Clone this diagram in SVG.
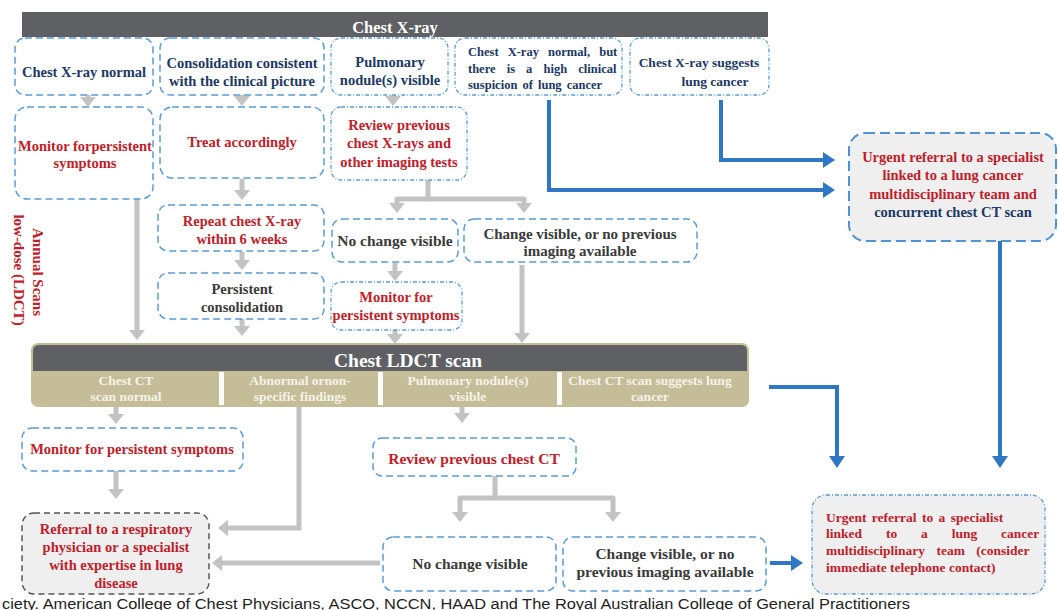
<svg xmlns="http://www.w3.org/2000/svg" width="1058" height="610" viewBox="0 0 1058 610">
<defs>
<style>
text{font-family:"Liberation Serif","Times New Roman",serif;font-weight:bold;font-size:14.5px;text-anchor:middle}
.nv{fill:#203864}
.rd{fill:#c0202a}
.dk{fill:#3a3a3a}
.wt{fill:#ffffff}
.tn{fill:#f6f3ea;font-size:13.5px}
.big{font-size:15.5px}
.bx{fill:#ffffff;stroke:#5b9bd5;stroke-width:1.5;stroke-dasharray:7 4}
.bxd{fill:#ffffff;stroke:#5b9bd5;stroke-width:1.3;stroke-dasharray:4 2 1 2}
.ug{fill:#efeff0;stroke:#4f93d6;stroke-width:2;stroke-dasharray:10 5}
.rf{fill:#efefef;stroke:#555555;stroke-width:1.5;stroke-dasharray:6 4}
.ugd{fill:#efefef;stroke:#5b9bd5;stroke-width:1.3;stroke-dasharray:4 2 1 2}
.g{fill:none;stroke:#c3c3c3;stroke-width:5;marker-end:url(#ga)}
.b{fill:none;stroke:#2f77c4;stroke-width:4;marker-end:url(#ba)}
.sm{font-size:12.5px;text-anchor:start}
.ju{font-size:13.5px;text-anchor:start}
.cap{font-family:"Liberation Sans",Arial,sans-serif;font-weight:normal;font-size:14px;fill:#222;text-anchor:start}
</style>
<marker id="ga" markerUnits="userSpaceOnUse" markerWidth="10" markerHeight="18" viewBox="0 -9 10 18" refX="0" refY="0" orient="auto"><path d="M0,-8 L10,0 L0,8 z" fill="#c3c3c3"/></marker>
<marker id="ba" markerUnits="userSpaceOnUse" markerWidth="12" markerHeight="18" viewBox="0 -9 12 18" refX="0" refY="0" orient="auto"><path d="M0,-8 L12,0 L0,8 z" fill="#2f77c4"/></marker>
</defs>
<rect width="1058" height="610" fill="#ffffff"/>

<g id="header-xray">
<rect x="22" y="12" width="746" height="25" fill="#5f6063"/>
<text class="wt" x="395" y="33" style="font-size:16.5px">Chest X-ray</text>
</g>

<g id="connectors">
<path class="g" d="M88,95 V97"/>
<path class="g" d="M242,95 V96"/>
<path class="g" d="M393,95 V96"/>
<path class="g" d="M242,179 V190"/>
<path class="g" d="M242,252 V260"/>
<path class="g" d="M242,319 V326"/>
<path class="g" d="M137,199 V330"/>
<path class="g" d="M428,180 V199 H397 V203" stroke-linejoin="round"/>
<path class="g" d="M428,199 H524 V203" stroke-linejoin="round"/>
<path class="g" d="M395,263 V271"/>
<path class="g" d="M395,330 V334"/>
<path class="g" d="M522,265 V333"/>
<path class="g" d="M116,407 V414"/>
<path class="g" d="M116,471 V489"/>
<path class="g" d="M299,407 V528 H228"/>
<path class="g" d="M462,407 V413"/>
<path class="g" d="M495,476 V498 H460 V512" stroke-linejoin="round"/>
<path class="g" d="M495,498 H613 V512" stroke-linejoin="round"/>
<path class="g" d="M380,563 H222"/>
<path class="b" d="M549,100 V190 H823"/>
<path class="b" d="M721,100 V160 H823"/>
<path class="b" d="M1000,241 V456"/>
<path class="b" d="M769,387 H837 V456"/>
<path class="b" d="M770,563 H791"/>
</g>

<g id="n-xray-normal">
<rect class="bx" x="15" y="38" width="138" height="57" rx="10"/>
<text class="nv" x="84" y="77">Chest X-ray normal</text>
</g>
<g id="n-consolidation">
<rect class="bx" x="160" y="38" width="164" height="57" rx="10"/>
<text class="nv" x="242" y="68">Consolidation consistent</text>
<text class="nv" x="242" y="86">with the clinical picture</text>
</g>
<g id="n-nodule">
<rect class="bxd" x="331" y="38" width="117" height="57" rx="10"/>
<text class="nv" x="390" y="67">Pulmonary</text>
<text class="nv" x="390" y="85">nodule(s) visible</text>
</g>
<g id="n-high-suspicion">
<rect class="bxd" x="455" y="38" width="167" height="57" rx="10"/>
<text class="nv sm" x="468" y="56" style="word-spacing:6px">Chest X-ray normal, but</text>
<text class="nv sm" x="468" y="73" style="word-spacing:8px">there is a high clinical</text>
<text class="nv sm" x="468" y="89" style="word-spacing:2px">suspicion of lung cancer</text>
</g>
<g id="n-xray-suggests">
<rect class="bxd" x="630" y="38" width="139" height="57" rx="10"/>
<text class="nv" x="699" y="67" style="font-size:13.5px">Chest X-ray suggests</text>
<text class="nv" x="715" y="86" style="font-size:13.5px">lung cancer</text>
</g>

<g id="n-monitor-1">
<rect class="bx" x="15" y="107" width="138" height="92" rx="12"/>
<text class="rd" x="85" y="151">Monitor forpersistent</text>
<text class="rd" x="85" y="168">symptoms</text>
</g>
<g id="n-treat">
<rect class="bx" x="160" y="107" width="164" height="71" rx="12"/>
<text class="rd" x="242" y="147">Treat accordingly</text>
</g>
<g id="n-review-xrays">
<rect class="bxd" x="331" y="107" width="136" height="73" rx="10"/>
<text class="rd" x="399" y="130">Review previous</text>
<text class="rd" x="399" y="148">chest X-rays and</text>
<text class="rd" x="399" y="167">other imaging tests</text>
</g>
<g id="n-repeat">
<rect class="bx" x="158" y="205" width="166" height="46" rx="10"/>
<text class="rd" x="242" y="226">Repeat chest X-ray</text>
<text class="rd" x="242" y="244">within 6 weeks</text>
</g>
<g id="n-persistent">
<rect class="bx" x="158" y="273" width="166" height="46" rx="10"/>
<text class="dk" x="242" y="294">Persistent</text>
<text class="dk" x="242" y="312">consolidation</text>
</g>
<g id="n-nochange-1">
<rect class="bx" x="332" y="219" width="126" height="43" rx="10"/>
<text class="dk big" x="395" y="246">No change visible</text>
</g>
<g id="n-change-1">
<rect class="bx" x="464" y="219" width="233" height="43" rx="10"/>
<text class="dk" x="580" y="239" style="font-size:15px">Change visible, or no previous</text>
<text class="dk" x="580" y="256" style="font-size:15px">imaging available</text>
</g>
<g id="n-monitor-2">
<rect class="bxd" x="331" y="282" width="131" height="48" rx="10"/>
<text class="rd" x="396" y="302">Monitor for</text>
<text class="rd" x="396" y="320">persistent symptoms</text>
</g>

<g id="n-annual">
<text class="rd" transform="translate(38,272) rotate(90)" x="0" y="5" style="font-size:15px">Annual Scans</text>
<text class="rd" transform="translate(19,270) rotate(90)" x="0" y="5" style="font-size:15px">low-dose (LDCT)</text>
</g>

<g id="n-urgent-1">
<rect class="ug" x="849" y="133" width="207" height="108" rx="16"/>
<text class="rd" x="953" y="162">Urgent referral to a specialist</text>
<text class="rd" x="953" y="180">linked to a lung cancer</text>
<text class="rd" x="953" y="199">multidisciplinary team and</text>
<text class="nv" x="953" y="217">concurrent chest CT scan</text>
</g>

<g id="n-ldct">
<rect x="31" y="343" width="718" height="64" rx="7" fill="#c5bd98"/>
<path d="M33,371 V351 Q33,345 39,345 H741 Q747,345 747,351 V371 Z" fill="#5f6063"/>
<rect x="219" y="372" width="5" height="33" fill="#ffffff"/>
<rect x="378" y="372" width="5" height="33" fill="#ffffff"/>
<rect x="557" y="372" width="5" height="33" fill="#ffffff"/>
<text class="wt" x="408" y="367" style="font-size:19.5px">Chest LDCT scan</text>
<text class="tn" x="126" y="385">Chest CT</text>
<text class="tn" x="126" y="401">scan normal</text>
<text class="tn" x="300" y="385">Abnormal ornon-</text>
<text class="tn" x="300" y="401">specific findings</text>
<text class="tn" x="468" y="385">Pulmonary nodule(s)</text>
<text class="tn" x="468" y="401">visible</text>
<text class="tn" x="650" y="385">Chest CT scan suggests lung</text>
<text class="tn" x="650" y="401">cancer</text>
</g>

<g id="n-monitor-3">
<rect class="bx" x="22" y="428" width="221" height="43" rx="10"/>
<text class="rd" x="132" y="454">Monitor for persistent symptoms</text>
</g>
<g id="n-review-ct">
<rect class="bx" x="373" y="438" width="203" height="38" rx="9"/>
<text class="rd big" x="474" y="464">Review previous chest CT</text>
</g>
<g id="n-referral">
<rect class="rf" x="22" y="513" width="187" height="81" rx="12"/>
<text class="rd" x="116" y="534">Referral to a respiratory</text>
<text class="rd" x="116" y="552">physician or a specialist</text>
<text class="rd" x="116" y="570">with expertise in lung</text>
<text class="rd" x="116" y="588">disease</text>
</g>
<g id="n-nochange-2">
<rect class="bx" x="383" y="537" width="173" height="54" rx="10"/>
<text class="dk big" x="470" y="569">No change visible</text>
</g>
<g id="n-change-2">
<rect class="bx" x="563" y="537" width="203" height="54" rx="10"/>
<text class="dk big" x="665" y="559">Change visible, or no</text>
<text class="dk big" x="665" y="577">previous imaging available</text>
</g>
<g id="n-urgent-2">
<rect class="ugd" x="812" y="495" width="233" height="99" rx="14"/>
<text class="rd ju" x="826" y="522" style="word-spacing:2px">Urgent referral to a specialist</text>
<text class="rd ju" x="826" y="538" style="word-spacing:20.5px">linked to a lung cancer</text>
<text class="rd ju" x="826" y="555" style="word-spacing:8px">multidisciplinary team (consider</text>
<text class="rd ju" x="826" y="572">immediate telephone contact)</text>
</g>

<text class="cap" x="2" y="609" textLength="908" lengthAdjust="spacingAndGlyphs">ciety. American College of Chest Physicians, ASCO, NCCN, HAAD and The Royal Australian College of General Practitioners</text>
</svg>
